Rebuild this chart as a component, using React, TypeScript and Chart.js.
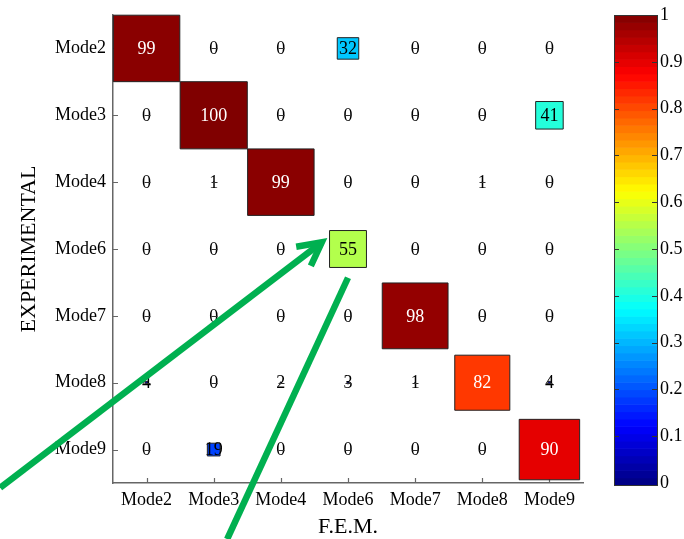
import React, { useEffect, useRef } from 'react';
import { Chart, registerables } from 'chart.js';

Chart.register(...registerables);

// ---- data ----
const feModes = ['Mode2', 'Mode3', 'Mode4', 'Mode6', 'Mode7', 'Mode8', 'Mode9'];
const expModes = ['Mode2', 'Mode3', 'Mode4', 'Mode6', 'Mode7', 'Mode8', 'Mode9'];
const macMode2 = [99, 0, 0, 32, 0, 0, 0];
const macMode3 = [0, 100, 0, 0, 0, 0, 41];
const macMode4 = [0, 1, 99, 0, 0, 1, 0];
const macMode6 = [0, 0, 0, 55, 0, 0, 0];
const macMode7 = [0, 0, 0, 0, 98, 0, 0];
const macMode8 = [4, 0, 2, 3, 1, 82, 4];
const macMode9 = [0, 19, 0, 0, 0, 0, 90];
const macRows = [macMode2, macMode3, macMode4, macMode6, macMode7, macMode8, macMode9];
const colorbarTicks = [0, 0.1, 0.2, 0.3, 0.4, 0.5, 0.6, 0.7, 0.8, 0.9, 1];
const colorbarLabels = ['0', '0.1', '0.2', '0.3', '0.4', '0.5', '0.6', '0.7', '0.8', '0.9', '1'];
const xTitle = 'F.E.M.';
const yTitle = 'EXPERIMENTAL';
// annotation arrows, in axis units (x: F.E.M. index, y: EXPERIMENTAL index)
const arrowA = { from: [-2.18, 6.57], to: [2.61, 2.9], head: true };
const arrowB = { from: [3.0, 3.43], to: [1.2, 7.34], head: false };

const FONT = "'Liberation Serif', 'Times New Roman', serif";

function jet(v: number): string {
  const c = (t: number) => Math.max(0, Math.min(1, t));
  const r = c(1.5 - Math.abs(4 * v - 3));
  const g = c(1.5 - Math.abs(4 * v - 2));
  const b = c(1.5 - Math.abs(4 * v - 1));
  return `rgb(${Math.round(r * 255)},${Math.round(g * 255)},${Math.round(b * 255)})`;
}

const points: { x: number; y: number; v: number }[] = [];
macRows.forEach((row, r) => row.forEach((v, c) => points.push({ x: c, y: r, v })));

const innerTicksPlugin = {
  id: 'innerTicks',
  beforeDatasetsDraw(chart: any) {
    const { ctx, chartArea, scales } = chart;
    ctx.save();
    ctx.strokeStyle = '#666';
    ctx.lineWidth = 1.2;
    ctx.beginPath();
    feModes.forEach((_, i) => {
      const px = Math.round(scales.x.getPixelForValue(i)) + 0.5;
      ctx.moveTo(px, chartArea.bottom);
      ctx.lineTo(px, chartArea.bottom - 5);
    });
    expModes.forEach((_, i) => {
      const py = Math.round(scales.y.getPixelForValue(i)) + 0.5;
      ctx.moveTo(chartArea.left, py);
      ctx.lineTo(chartArea.left + 5, py);
    });
    ctx.stroke();
    ctx.restore();
  },
};

const cellLabelsPlugin = {
  id: 'cellLabels',
  afterDatasetsDraw(chart: any) {
    const { ctx, scales } = chart;
    ctx.save();
    ctx.font = `18px ${FONT}`;
    ctx.textAlign = 'center';
    ctx.textBaseline = 'middle';
    points.forEach((p) => {
      const px = scales.x.getPixelForValue(p.x);
      const py = scales.y.getPixelForValue(p.y);
      ctx.fillStyle = p.v >= 80 ? '#ffffff' : '#000000';
      ctx.fillText(String(p.v), px, py + 1);
      if (p.v < 10) {
        // tiny (near-zero) patch outline seen as a dash through the digit
        ctx.strokeStyle = '#333';
        ctx.lineWidth = 1;
        ctx.beginPath();
        ctx.moveTo(Math.round(px) - 2.5, Math.round(py) + 0.5);
        ctx.lineTo(Math.round(px) + 3.5, Math.round(py) + 0.5);
        ctx.stroke();
      }
    });
    ctx.restore();
  },
};

const colorbarPlugin = {
  id: 'colorbar',
  afterDraw(chart: any) {
    const { ctx } = chart;
    const cb = chart.scales.cb;
    const x0 = cb.left + 31;
    const w = 43;
    const top = cb.getPixelForValue(1);
    const bottom = cb.getPixelForValue(0) + 2;
    const n = 64;
    ctx.save();
    for (let i = 0; i < n; i++) {
      const y1 = bottom - ((i + 1) / n) * (bottom - top);
      const y2 = bottom - (i / n) * (bottom - top);
      ctx.fillStyle = jet((i + 0.5) / n);
      ctx.fillRect(x0, y1, w, y2 - y1 + 0.6);
    }
    ctx.strokeStyle = '#333';
    ctx.lineWidth = 1;
    ctx.strokeRect(x0 + 0.5, Math.round(top) + 0.5, w, bottom - top);
    ctx.beginPath();
    colorbarTicks.forEach((t) => {
      if (t <= 0 || t >= 1) return;
      const py = Math.round(cb.getPixelForValue(t)) + 0.5;
      ctx.moveTo(x0, py);
      ctx.lineTo(x0 + 5, py);
      ctx.moveTo(x0 + w, py);
      ctx.lineTo(x0 + w - 5, py);
    });
    ctx.stroke();
    ctx.restore();
  },
};

function drawArrow(ctx: any, chart: any, a: any) {
  const { x, y } = chart.scales;
  const x1 = x.getPixelForValue(a.from[0]);
  const y1 = y.getPixelForValue(a.from[1]);
  const x2 = x.getPixelForValue(a.to[0]);
  const y2 = y.getPixelForValue(a.to[1]);
  ctx.beginPath();
  ctx.moveTo(x1, y1);
  ctx.lineTo(x2, y2);
  ctx.stroke();
  if (a.head) {
    const ang = Math.atan2(y2 - y1, x2 - x1);
    const L = 26;
    const spread = Math.PI / 6.5;
    ctx.beginPath();
    ctx.moveTo(x2 - L * Math.cos(ang - spread), y2 - L * Math.sin(ang - spread));
    ctx.lineTo(x2, y2);
    ctx.lineTo(x2 - L * Math.cos(ang + spread), y2 - L * Math.sin(ang + spread));
    ctx.stroke();
  }
}

const arrowsPlugin = {
  id: 'arrows',
  afterDraw(chart: any) {
    const { ctx } = chart;
    ctx.save();
    ctx.strokeStyle = '#00B050';
    ctx.lineWidth = 6.5;
    ctx.lineJoin = 'miter';
    ctx.lineCap = 'butt';
    drawArrow(ctx, chart, arrowA);
    drawArrow(ctx, chart, arrowB);
    ctx.restore();
  },
};

function fixBox(s: any, w: number | null, h: number | null) {
  if (w !== null) s.width = w;
  if (h !== null) s.height = h;
  s.paddingTop = 0;
  s.paddingBottom = 0;
  s.paddingLeft = 0;
  s.paddingRight = 0;
}

export default function App() {
  const ref = useRef<HTMLCanvasElement | null>(null);

  useEffect(() => {
    if (!ref.current) return;
    const chart = new Chart(ref.current, {
      type: 'scatter',
      data: {
        datasets: [
          {
            data: points as any,
            pointStyle: 'rect',
            clip: false as any,
            radius: (c: any) => {
              const raw = c.raw;
              if (!raw) return 0;
              const xs = c.chart.scales.x;
              const cell = Math.abs(xs.getPixelForValue(1) - xs.getPixelForValue(0));
              return ((raw.v / 100) * cell) / Math.SQRT2;
            },
            hoverRadius: 0,
            backgroundColor: (c: any) => (c.raw ? jet(c.raw.v / 100) : '#000'),
            borderColor: '#222',
            borderWidth: 1,
          } as any,
        ],
      },
      options: {
        animation: false,
        responsive: true,
        maintainAspectRatio: false,
        events: [],
        layout: { autoPadding: false, padding: { top: 15, left: 0, right: 0, bottom: 0 } },
        plugins: { legend: { display: false }, tooltip: { enabled: false } },
        scales: {
          x: {
            type: 'linear',
            position: 'bottom',
            min: -0.5,
            max: 6.5,
            afterBuildTicks: (s: any) => {
              s.ticks = feModes.map((_, i) => ({ value: i }));
            },
            afterFit: (s: any) => fixBox(s, null, 56),
            ticks: {
              callback: (v: any) => feModes[v] ?? '',
              font: { family: FONT, size: 18 },
              color: '#000',
              padding: 6,
              maxRotation: 0,
              autoSkip: false,
            },
            grid: { display: false, drawTicks: false },
            border: { display: true, color: '#666', width: 1.5 },
            title: {
              display: true,
              text: xTitle,
              font: { family: FONT, size: 22, lineHeight: 1 },
              color: '#000',
              padding: { top: 0, bottom: 1 },
            },
          },
          y: {
            type: 'linear',
            position: 'left',
            min: -0.5,
            max: 6.5,
            reverse: true,
            afterBuildTicks: (s: any) => {
              s.ticks = expModes.map((_, i) => ({ value: i }));
            },
            afterFit: (s: any) => fixBox(s, 113, null),
            ticks: {
              callback: (v: any) => expModes[v] ?? '',
              font: { family: FONT, size: 18 },
              color: '#000',
              padding: 7,
              autoSkip: false,
            },
            grid: { display: false, drawTicks: false },
            border: { display: true, color: '#666', width: 1.5 },
            title: {
              display: true,
              text: yTitle,
              font: { family: FONT, size: 22, lineHeight: 1 },
              color: '#000',
              padding: { top: 18, bottom: 0 },
            },
          },
          cb: {
            type: 'linear',
            axis: 'y',
            position: 'right',
            min: 0,
            max: 1,
            afterBuildTicks: (s: any) => {
              s.ticks = colorbarTicks.map((t) => ({ value: t }));
            },
            afterFit: (s: any) => fixBox(s, 101, null),
            ticks: {
              callback: (_v: any, i: number) => colorbarLabels[i],
              font: { family: FONT, size: 18 },
              color: '#000',
              padding: 77,
              autoSkip: false,
            },
            grid: { display: false, drawTicks: false },
            border: { display: false },
          },
        } as any,
      },
      plugins: [innerTicksPlugin, cellLabelsPlugin, colorbarPlugin, arrowsPlugin],
    });
    return () => chart.destroy();
  }, []);

  return (
    <div style={{ position: 'fixed', left: 0, top: 0, width: 684, height: 539, background: '#fff' }}>
      <canvas ref={ref} />
    </div>
  );
}
